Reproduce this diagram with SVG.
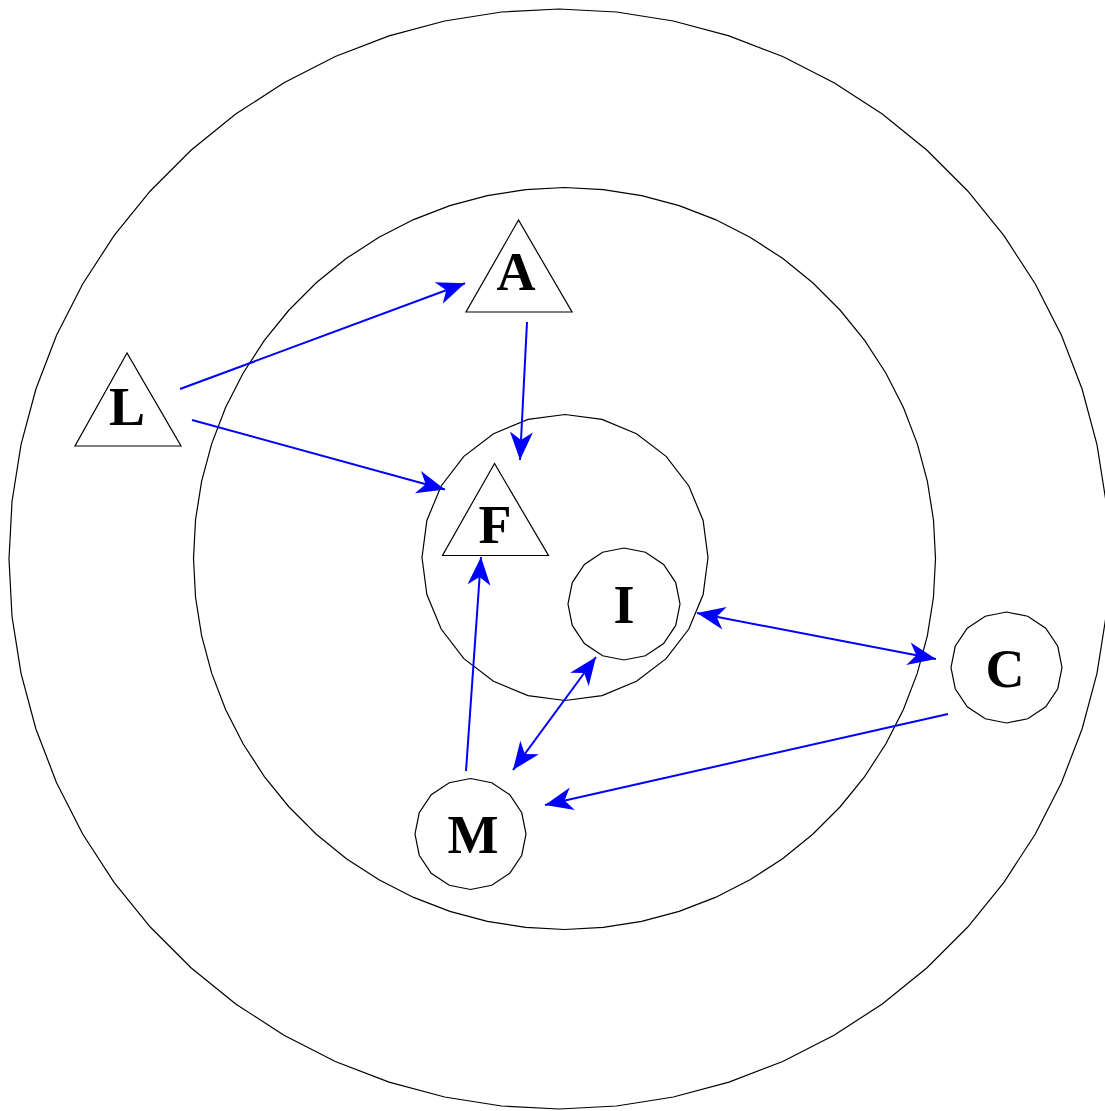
<svg xmlns="http://www.w3.org/2000/svg" xmlns:xlink="http://www.w3.org/1999/xlink" width="1105" height="1111" viewBox="0 0 1105 1111">
<style>
.ring{fill:none;stroke:#000;}
.shape{fill:#fff;stroke:#000;}
.tri{fill:#fff;stroke:#000;stroke-width:1.2;}
.lbl{font-family:"Liberation Serif","Times New Roman",serif;font-weight:bold;font-size:54px;text-anchor:middle;fill:#000;}
.edge{stroke:#0000ff;stroke-width:2;fill:none;}
</style>
<defs>
<polygon id="p60" vector-effect="non-scaling-stroke" stroke-width="1.2" points="0,-1 .10453,-.99452 .20791,-.97815 .30902,-.95106 .40674,-.91355 .5,-.86603 .58779,-.80902 .66913,-.74314 .74314,-.66913 .80902,-.58779 .86603,-.5 .91355,-.40674 .95106,-.30902 .97815,-.20791 .99452,-.10453 1,0 .99452,.10453 .97815,.20791 .95106,.30902 .91355,.40674 .86603,.5 .80902,.58779 .74314,.66913 .66913,.74314 .58779,.80902 .5,.86603 .40674,.91355 .30902,.95106 .20791,.97815 .10453,.99452 0,1 -.10453,.99452 -.20791,.97815 -.30902,.95106 -.40674,.91355 -.5,.86603 -.58779,.80902 -.66913,.74314 -.74314,.66913 -.80902,.58779 -.86603,.5 -.91355,.40674 -.95106,.30902 -.97815,.20791 -.99452,.10453 -1,0 -.99452,-.10453 -.97815,-.20791 -.95106,-.30902 -.91355,-.40674 -.86603,-.5 -.80902,-.58779 -.74314,-.66913 -.66913,-.74314 -.58779,-.80902 -.5,-.86603 -.40674,-.91355 -.30902,-.95106 -.20791,-.97815 -.10453,-.99452"/>
<polygon id="p24" vector-effect="non-scaling-stroke" stroke-width="1.2" points="0,-1 .25882,-.96593 .5,-.86603 .70711,-.70711 .86603,-.5 .96593,-.25882 1,0 .96593,.25882 .86603,.5 .70711,.70711 .5,.86603 .25882,.96593 0,1 -.25882,.96593 -.5,.86603 -.70711,.70711 -.86603,.5 -.96593,.25882 -1,0 -.96593,-.25882 -.86603,-.5 -.70711,-.70711 -.5,-.86603 -.25882,-.96593"/>
<polygon id="p16" vector-effect="non-scaling-stroke" stroke-width="1.2" points="0,-1 .38268,-.92388 .70711,-.70711 .92388,-.38268 1,0 .92388,.38268 .70711,.70711 .38268,.92388 0,1 -.38268,.92388 -.70711,.70711 -.92388,.38268 -1,0 -.92388,-.38268 -.70711,-.70711 -.38268,-.92388"/>
<marker id="ah" markerUnits="userSpaceOnUse" viewBox="-30 -14 32 28" refX="0" refY="0" markerWidth="32" markerHeight="28" orient="auto-start-reverse">
<path d="M0,0 L-28,-11.5 L-20,0 L-28,11.5 Z" fill="#0000ff"/>
</marker>
</defs>

<g id="rings">
<use href="#p60" class="ring" transform="translate(559,559) scale(550)"/>
<use href="#p60" class="ring" transform="translate(564.5,558.5) scale(371)"/>
<use href="#p24" class="ring" transform="translate(565,557.5) scale(143)"/>
</g>

<g id="node-L">
<polygon class="tri" points="127,353 75,446 181,446"/>
<text class="lbl" x="127" y="425">L</text>
</g>
<g id="node-A">
<polygon class="tri" points="518.5,220 466,312 572,312"/>
<text class="lbl" x="516" y="290">A</text>
</g>
<g id="node-F">
<polygon class="tri" points="494.5,463.5 442.5,555.5 548.5,555.5"/>
<text class="lbl" x="495" y="543">F</text>
</g>
<g id="node-I">
<use href="#p16" class="shape" transform="translate(624,604) scale(56)"/>
<text class="lbl" x="624" y="623">I</text>
</g>
<g id="node-C">
<use href="#p16" class="shape" transform="translate(1006.5,667.5) scale(55.5)"/>
<text class="lbl" x="1005" y="687">C</text>
</g>
<g id="node-M">
<use href="#p16" class="shape" transform="translate(470.5,834) scale(55.5)"/>
<text class="lbl" x="473" y="853">M</text>
</g>

<g id="connectors">
<path class="edge" d="M180,389 L465,283.3" marker-end="url(#ah)"/>
<path class="edge" d="M192,420 L445,489.5" marker-end="url(#ah)"/>
<path class="edge" d="M527,322 L520,460" marker-end="url(#ah)"/>
<path class="edge" d="M466,771 L481,557" marker-end="url(#ah)"/>
<path class="edge" d="M513,770 L596,657" marker-start="url(#ah)" marker-end="url(#ah)"/>
<path class="edge" d="M697,613 L936,659" marker-start="url(#ah)" marker-end="url(#ah)"/>
<path class="edge" d="M948,714 L545,805" marker-end="url(#ah)"/>
</g>
</svg>
